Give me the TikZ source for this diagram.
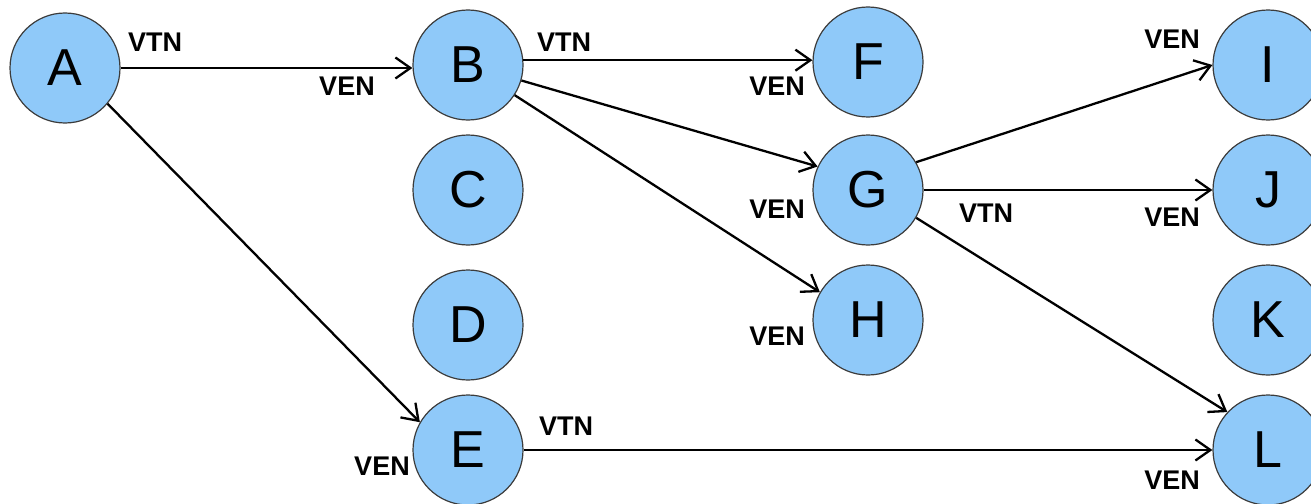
\documentclass[tikz,border=0pt]{standalone}
\usepackage{fontspec}
\setmainfont{Liberation Sans}
\usetikzlibrary{arrows.meta}
\definecolor{nodefill}{RGB}{143,201,249}
\definecolor{nodeline}{RGB}{60,60,60}
\tikzset{
  vertex/.style={circle, draw=nodeline, line width=1.2pt, fill=nodefill, minimum size=110pt, inner sep=0pt, font=\fontsize{52}{52}\selectfont},
  lbl/.style={font=\bfseries\fontsize{27}{27}\selectfont, inner sep=0pt},
  link/.style={line width=2.3pt, -{Straight Barb[length=15pt,width=21pt,line width=2.3pt]}}
}
\begin{document}
\begin{tikzpicture}[x=1pt,y=-1pt]
\useasboundingbox (0,0) rectangle (1311,503);
\clip (0,0) rectangle (1311,503);
\node[vertex] (A) at (65,68) {A};
\node[vertex] (B) at (468,65) {B};
\node[vertex] (C) at (468,190) {C};
\node[vertex] (D) at (468,325) {D};
\node[vertex] (E) at (468,450) {E};
\node[vertex] (F) at (868,62) {F};
\node[vertex] (G) at (868,190) {G};
\node[vertex] (H) at (868,320) {H};
\node[vertex] (I) at (1268,65) {I};
\node[vertex] (J) at (1268,190) {J};
\node[vertex] (K) at (1268,320) {K};
\node[vertex] (L) at (1268,450) {L};

\draw[link] (A.east) -- (A.east -| B.west);
\draw[link] (A.-40) -- (E.150);
\draw[link] (B.5) -- (B.5 -| F.west);
\draw[link] (B) -- (G.155);
\draw[link] (B) -- (H.150);
\draw[link] (G.30) -- (I.180);
\draw[link] (G) -- (J);
\draw[link] (G.-30) -- (L.137);
\draw[link] (E) -- (L);

\node[lbl] (t1) at (155,42) {VTN};
\node[lbl] (e1) at (347,86) {VEN};
\node[lbl] (t2) at (564,42) {VTN};
\node[lbl] (e2) at (777,86) {VEN};
\node[lbl] (e3) at (777,209) {VEN};
\node[lbl] (e4) at (777,336) {VEN};
\node[lbl] (e5) at (1172,39) {VEN};
\node[lbl] (t3) at (986,213) {VTN};
\node[lbl] (e6) at (1172,217) {VEN};
\node[lbl] (e7) at (382,466) {VEN};
\node[lbl] (t4) at (566,426) {VTN};
\node[lbl] (e8) at (1172,480) {VEN};
\end{tikzpicture}
\end{document}
